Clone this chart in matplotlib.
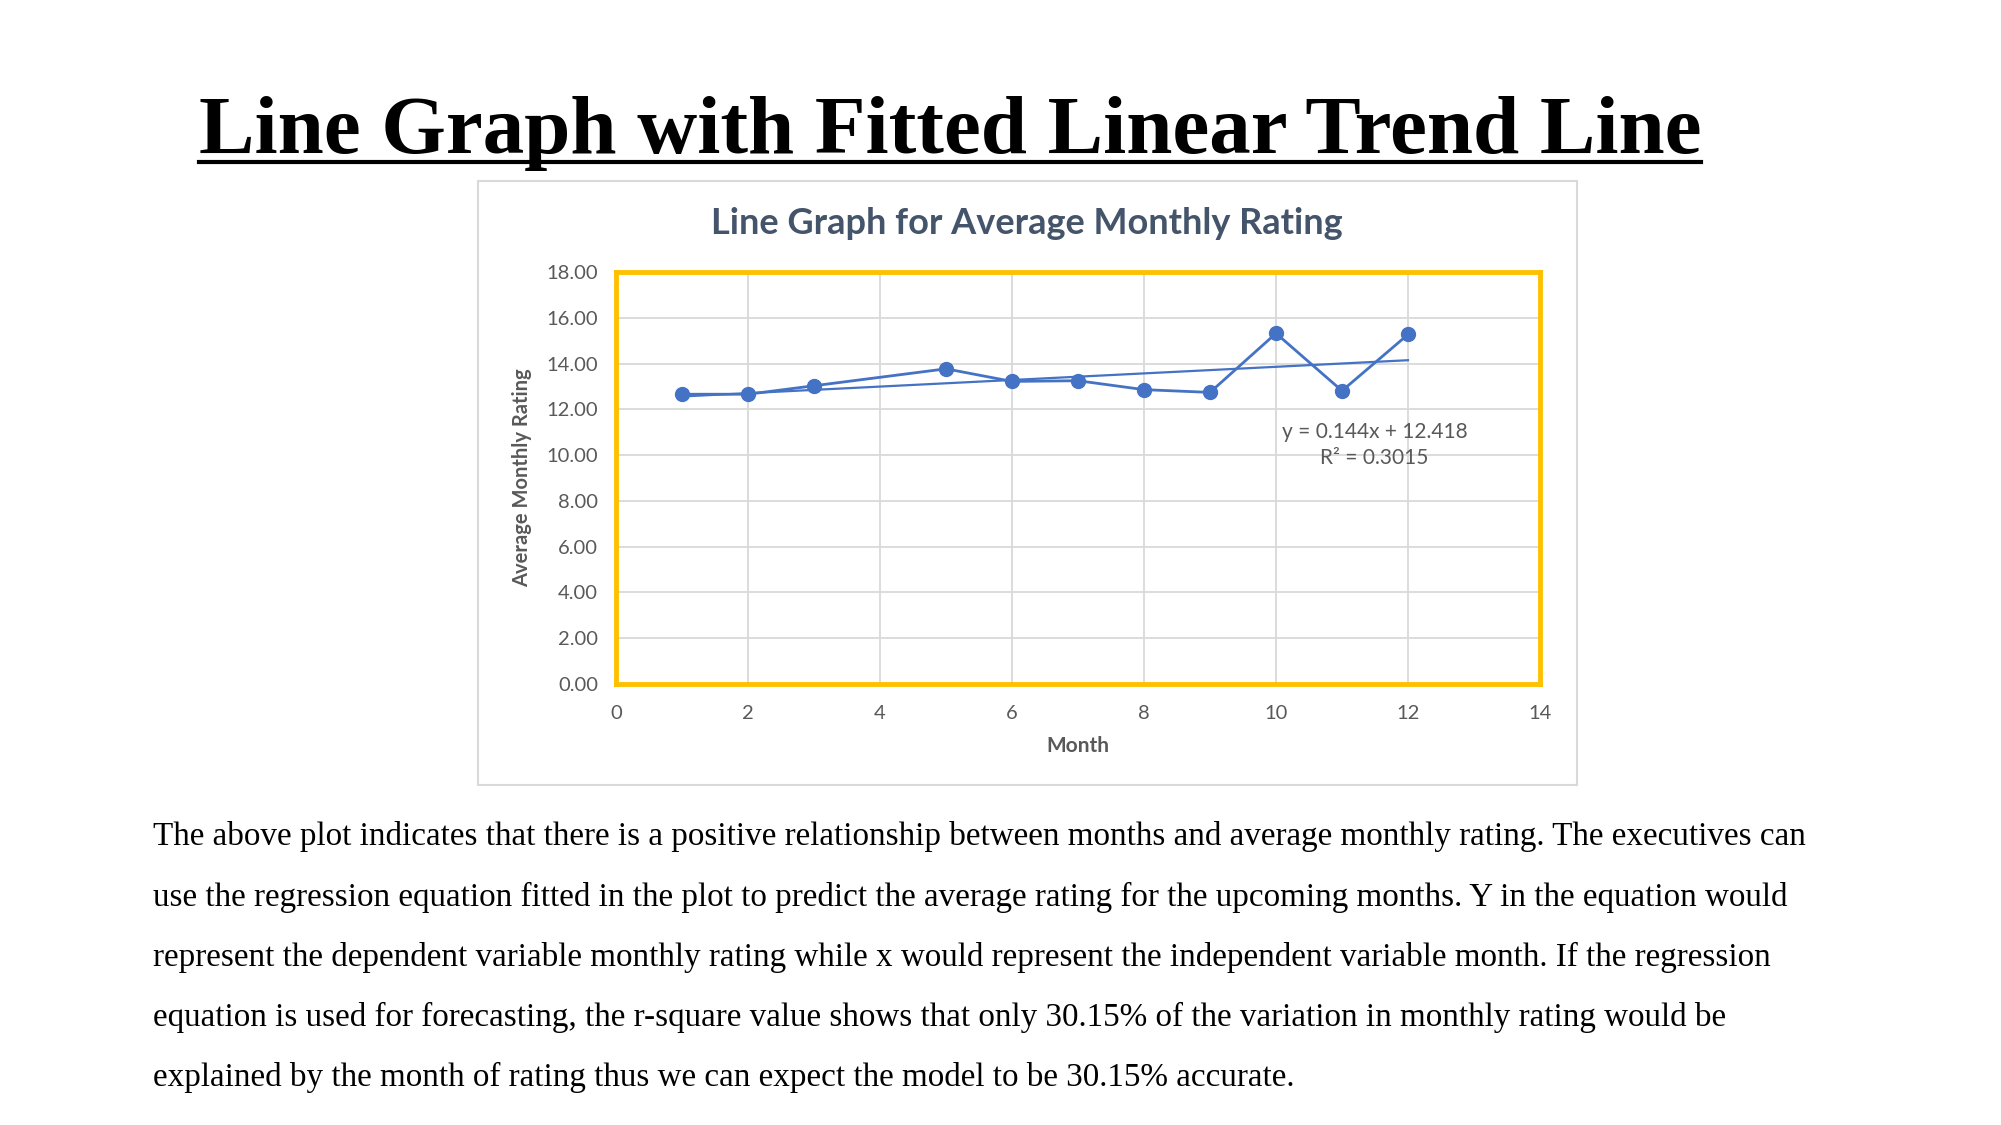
import numpy as np
import matplotlib
matplotlib.use('Agg')
import matplotlib.pyplot as plt
from matplotlib.lines import Line2D
from matplotlib.patches import Rectangle

# data
months = [1, 2, 3, 5, 6, 7, 8, 9, 10, 11, 12]
ratings = [12.66, 12.66, 13.03, 13.77, 13.22, 13.25, 12.86, 12.74, 15.32, 12.81, 15.27]
slope = 0.144
intercept = 12.418
r2 = 0.3015
x_ticks = [0, 2, 4, 6, 8, 10, 12, 14]
y_ticks = [0, 2, 4, 6, 8, 10, 12, 14, 16, 18]

paragraph = [
    "The above plot indicates that there is a positive relationship between months and average monthly rating. The executives can",
    "use the regression equation fitted in the plot to predict the average rating for the upcoming months. Y in the equation would",
    "represent the dependent variable monthly rating while x would represent the independent variable month. If the regression",
    "equation is used for forecasting, the r-square value shows that only 30.15% of the variation in monthly rating would be",
    "explained by the month of rating thus we can expect the model to be 30.15% accurate.",
]

W, H = 2001, 1125
fig = plt.figure(figsize=(W / 100, H / 100), dpi=100)

# page title (underlined)
title = fig.text(950 / W, 1 - 153 / H, "Line Graph with Fitted Linear Trend Line",
                 family='Liberation Serif', weight='bold', fontsize=59.8,
                 ha='center', va='baseline', color='black')

# chart box
fig.patches.append(Rectangle((478 / W, 1 - 785 / H), 1099 / W, 604 / H,
                             transform=fig.transFigure, fill=False,
                             edgecolor='#d9d9d9', linewidth=1.5))
fig.text(1027 / W, 1 - 224 / H, "Line Graph for Average Monthly Rating",
         family='Lato', weight='bold', fontsize=26, color='#44546a',
         ha='center', va='center')

ax = fig.add_axes([616 / W, 1 - 684 / H, 924 / W, 412 / H])
ax.plot(months, ratings, color='#4472c4', linewidth=2, marker='o',
        markersize=10, zorder=3)
xt = np.array([months[0], months[-1]])
ax.plot(xt, slope * xt + intercept, color='#4472c4', linewidth=1.6, zorder=3)

ax.set_xlim(0, 14)
ax.set_ylim(0, 18)
ax.set_xticks(x_ticks)
ax.set_yticks(y_ticks)
ax.set_yticklabels([f"{v:.2f}" for v in y_ticks])
ax.grid(True, color='#d9d9d9', linewidth=1.3)
ax.set_axisbelow(True)
ax.tick_params(length=0, labelsize=14.5, labelcolor='#595959')
ax.tick_params(axis='x', pad=15)
ax.tick_params(axis='y', pad=13)
for lab in ax.get_xticklabels() + ax.get_yticklabels():
    lab.set_family('Lato')
for s in ax.spines.values():
    s.set_color('#ffc000')
    s.set_linewidth(3.5)

ax.set_xlabel("Month", family='Lato', weight='bold', fontsize=15,
              color='#595959', labelpad=10)
ax.set_ylabel("Average Monthly Rating", family='Lato', weight='bold',
              fontsize=14.5, color='#595959', labelpad=10)

ax.text(0.821, 0.58, f"y = {slope}x + {intercept}\nR² = {r2}",
        transform=ax.transAxes, ha='center', va='center', family='Lato',
        fontsize=15, color='#595959', linespacing=1.35)

# paragraph below the chart
for i, line in enumerate(paragraph):
    fig.text(153 / W, 1 - (837 + 60 * i) / H, line, family='Liberation Serif',
             fontsize=23.9, ha='left', va='center', color='black')

# underline under the page title
fig.canvas.draw()
bb = title.get_window_extent()
y_ul = (H - 162) / H
fig.lines.append(Line2D([bb.x0 / W, bb.x1 / W], [y_ul, y_ul],
                        transform=fig.transFigure, color='black', linewidth=3))

fig.savefig('out.png', dpi=100)
